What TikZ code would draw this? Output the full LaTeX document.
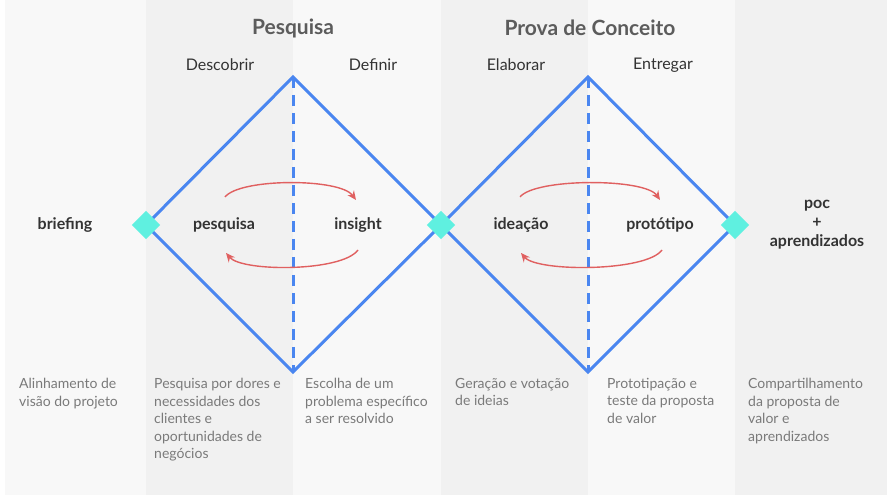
\documentclass[tikz,border=0pt]{standalone}
\usepackage{fontspec}
\setmainfont{Lato}
\usetikzlibrary{arrows.meta}
\definecolor{bgA}{HTML}{F8F8F8}
\definecolor{bgB}{HTML}{F1F1F1}
\definecolor{blu}{HTML}{4A86F0}
\definecolor{cya}{HTML}{5FF0E0}
\definecolor{rd}{HTML}{E06060}
\definecolor{tx}{HTML}{333333}
\definecolor{gr}{HTML}{7A7A7A}
\begin{document}
\begin{tikzpicture}[x=1pt,y=-1pt,
  head/.style={font=\bfseries\fontsize{21}{24}\selectfont,text=tx!80},
  sub/.style={font=\fontsize{16}{18}\selectfont,text=tx},
  lbl/.style={font=\bfseries\fontsize{16}{19}\selectfont,text=tx,align=center},
  body/.style={font=\fontsize{14}{17.5}\selectfont,text=gr,anchor=north west,align=left,inner sep=0pt},
  dia/.style={draw=blu,line width=3pt,line join=miter},
  sq/.style={fill=cya,minimum size=20pt,rotate=45,inner sep=0pt},
  arr/.style={draw=rd,line width=1.4pt,-{Stealth[length=9pt,width=8pt]}}]
\useasboundingbox (0,0) rectangle (892,502);
\fill[bgA] (5,0) rectangle (146,495);
\fill[bgB] (146,0) rectangle (293,495);
\fill[bgA] (293,0) rectangle (441,495);
\fill[bgB] (441,0) rectangle (588,495);
\fill[bgA] (588,0) rectangle (735,495);
\fill[bgB] (735,0) rectangle (887,495);
% diamonds
\coordinate (L1) at (146,225); \coordinate (T1) at (293,77);
\coordinate (M) at (441,225); \coordinate (B1) at (293,372);
\coordinate (T2) at (588,77); \coordinate (R2) at (735,225);
\coordinate (B2) at (588,372);
\draw[dia] (L1) -- (T1) -- (M) -- (B1) -- cycle;
\draw[dia] (M) -- (T2) -- (R2) -- (B2) -- cycle;
\draw[dia,dash pattern=on 11pt off 7pt] (T1) -- (B1);
\draw[dia,dash pattern=on 11pt off 7pt] (T2) -- (B2);
\node[sq] (s1) at (L1) {};
\node[sq] (s2) at (M) {};
\node[sq] (s3) at (R2) {};
% arcs
\draw[arr] (225,197) .. controls (240,178) and (340,178) .. (356,200);
\draw[arr] (358,250) .. controls (342,272) and (242,272) .. (226,253);
\draw[arr] (520,197) .. controls (535,178) and (645,178) .. (660,200);
\draw[arr] (662,250) .. controls (646,272) and (537,272) .. (521,253);
% headings
\node[head] (h1) at (293,28) {Pesquisa};
\node[head] (h2) at (590,28) {Prova de Conceito};
\node[sub] (d1) at (220,65) {Descobrir};
\node[sub] (d2) at (373,65) {Definir};
\node[sub] (d3) at (516,65) {Elaborar};
\node[sub] (d4) at (663,65) {Entregar};
% labels
\node[lbl] (n0) at (65,225) {briefing};
\node[lbl] (n1) at (224,225) {pesquisa};
\node[lbl] (n2) at (358,225) {insight};
\node[lbl] (n3) at (521,225) {ideação};
\node[lbl] (n4) at (660,225) {protótipo};
\node[lbl] (n5) at (817,225) {poc\\+\\aprendizados};
% body
\node[body] (b0) at (19,378) {Alinhamento de\\visão do projeto};
\node[body] (b1) at (154,378) {Pesquisa por dores e\\necessidades dos\\clientes e\\oportunidades de\\negócios};
\node[body] (b2) at (305,378) {Escolha de um\\problema específico\\a ser resolvido};
\node[body] (b3) at (455,378) {Geração e votação\\de ideias};
\node[body] (b4) at (607,378) {Prototipação e\\teste da proposta\\de valor};
\node[body] (b5) at (748,378) {Compartilhamento\\da proposta de\\valor e\\aprendizados};
\end{tikzpicture}
\end{document}
